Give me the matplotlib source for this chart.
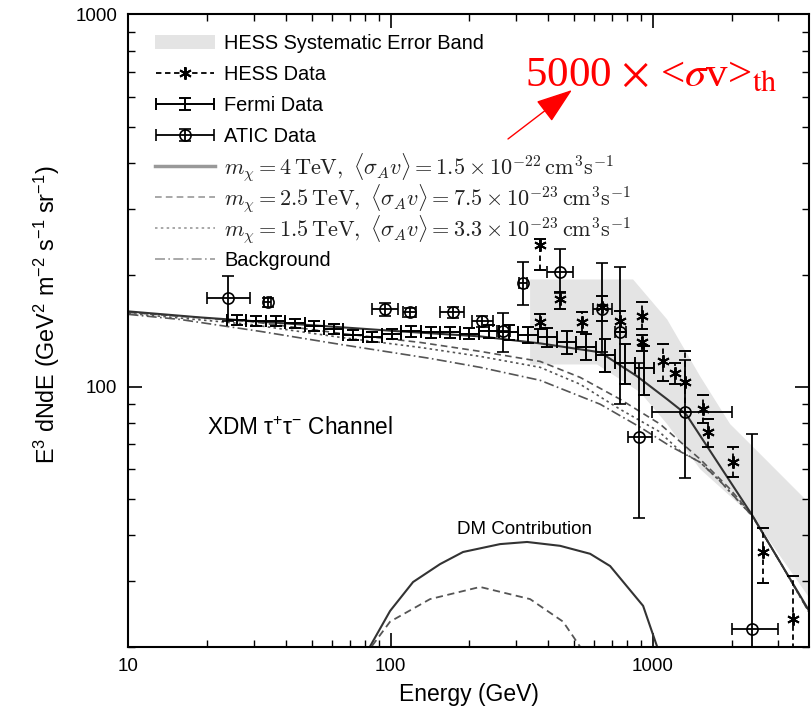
import matplotlib
matplotlib.use('Agg')
import matplotlib.pyplot as plt
from matplotlib.patches import Patch
from matplotlib.lines import Line2D
from matplotlib.container import ErrorbarContainer
from matplotlib.legend_handler import HandlerErrorbar
from matplotlib.ticker import FuncFormatter, NullFormatter

plt.rcParams['font.family'] = ['Liberation Sans', 'DejaVu Sans']
plt.rcParams['mathtext.fontset'] = 'custom'
plt.rcParams['mathtext.rm'] = 'Liberation Sans'
plt.rcParams['mathtext.it'] = 'Liberation Sans:italic'
plt.rcParams['mathtext.bf'] = 'Liberation Sans:bold'

# ---- model curves (E in GeV, E^3 dN/dE) ----
e_m4 = [10, 18.75, 45.1, 108.7, 219.6, 372.1, 630.5, 872.7, 1136, 1342, 1809, 2398, 3066, 3957]
f_m4 = [159.4, 153.6, 147.1, 140.9, 136.6, 130.8, 123.8, 106.7, 92.6, 84.4, 61.2, 45.2, 33.8, 25.0]

e_m25 = [10, 29.1, 64.2, 129.6, 219.6, 372.1, 528.9, 751.6, 1068, 1518, 1976, 2398, 3066, 3957]
f_m25 = [158.4, 149.8, 139.2, 131.6, 124.5, 117.0, 106.0, 92.6, 79.4, 63.9, 53.1, 45.2, 33.8, 24.8]

e_m15 = [10, 29.1, 64.2, 129.6, 219.6, 372.1, 528.9, 751.6, 1054, 1274, 1518, 1809, 2398, 3066, 3957]
f_m15 = [157.5, 147.1, 135.8, 127.6, 120.7, 112.8, 101.6, 87.0, 76.0, 67.2, 62.7, 55.8, 45.0, 33.8, 24.8]

e_bg = [10, 15.7, 31.8, 64.2, 141.5, 219.6, 372.1, 630.5, 896, 1166, 1518, 1809, 2398, 3066, 3957]
f_bg = [156.5, 151.7, 140.9, 130.0, 119.2, 112.8, 104.1, 89.8, 77.9, 69.3, 62.7, 55.8, 45.0, 33.8, 24.8]

# DM contributions alone
e_dm4 = [79.9, 99.6, 121.9, 154.5, 189.1, 261.8, 331.9, 443.6, 577.5, 688.4, 919.8, 1068]
f_dm4 = [19.0, 25.0, 29.9, 33.4, 36.0, 37.8, 38.3, 37.4, 35.6, 33.0, 25.8, 19.0]
e_dm25 = [79.9, 99.6, 141.5, 219.6, 340.8, 455.3, 542.9]
f_dm25 = [19.0, 23.4, 26.9, 29.0, 26.9, 23.4, 19.5]

# HESS systematic band (outline)
band_e = [340.8, 842.5, 1136, 1518, 1976, 2572, 3992, 3992, 2398, 1518, 1136, 896, 614, 340.8]
band_f = [194.2, 194.2, 151.7, 106.7, 79.4, 66.0, 48.4, 26.9, 45.0, 60.1, 79.4, 96.7, 114.8, 114.8]

# ---- Fermi data ----
fermi_lo = [23.8, 28.2, 33.4, 39.6, 47.0, 55.7, 66.1, 78.3, 92.9, 110, 131, 155, 184, 218, 259, 307, 364, 431, 512, 607, 719, 853]
fermi_hi = [28.2, 33.4, 39.6, 47.0, 55.7, 66.1, 78.3, 92.9, 110, 131, 155, 184, 218, 259, 307, 364, 431, 512, 607, 719, 853, 1013]
fermi_e = [25.9, 30.7, 36.4, 43.1, 51.2, 60.7, 71.9, 85.3, 101, 120, 142.5, 169, 200, 238, 282, 334, 396, 470, 557, 661, 783, 930]
fermi_f = [151, 150, 150, 148, 146, 143, 138, 136, 139, 141, 140, 140, 139, 141, 140, 138, 136, 132, 128, 122, 116, 112]
fermi_err = [4.5, 4.5, 4.5, 4.4, 4.4, 4.3, 4.1, 4.1, 4.2, 4.9, 4.9, 4.9, 4.9, 5.6, 6.3, 6.9, 8.2, 9.2, 10.2, 12.2, 14, 17]

# ---- HESS data ----
hess_e = [372, 372, 444, 538, 642, 752, 912, 912, 1097, 1219, 1330, 1560, 1620, 2029, 2642, 3438]
hess_f = [241, 148.9, 171.7, 148.9, 163.4, 149.8, 154.5, 131.6, 117.0, 108.7, 102.8, 87.0, 75.5, 62.7, 36.0, 23.8]
hess_lo = [206, 142.6, 161.4, 140.0, 150, 140, 142.6, 125, 103.4, 102, 85.4, 80, 69, 57.2, 29.7, 15]
hess_hi = [250, 156.5, 179.2, 158.4, 175, 160, 168.5, 138, 130.0, 116, 124.5, 95, 82, 68.8, 41.8, 31.0]

# ---- ATIC data ----
atic_e = [24.0, 34.1, 95.3, 118.7, 173, 223.5, 269, 320, 444, 640, 752, 888, 1330, 2398]
atic_f = [172.7, 168.5, 161.4, 158.4, 158.4, 150, 141, 190.6, 203, 162, 140, 73.2, 85.4, 22.4]
atic_lo = [150, 164, 155, 154, 153, 145, 124, 166, 179, 124, 90, 44.4, 56.8, 15]
atic_hi = [198, 173, 168, 163, 164, 155, 158, 217, 234, 215, 210, 116, 118, 74.5]
atic_elo = [19.9, 33, 85, 112, 155, 205, 255, 310, 396, 590, 720, 806, 996, 2011]
atic_ehi = [29.1, 35, 107, 125, 190, 245, 285, 332, 497, 700, 790, 996, 2011, 3000]

labels = ['HESS Systematic Error Band', 'HESS Data', 'Fermi Data', 'ATIC Data',
          r'$m_\chi = 4\,\mathrm{TeV},\ \langle\sigma_A v\rangle = 1.5\times10^{-22}\,\mathrm{cm^3s^{-1}}$',
          r'$m_\chi = 2.5\,\mathrm{TeV},\ \langle\sigma_A v\rangle = 7.5\times10^{-23}\,\mathrm{cm^3s^{-1}}$',
          r'$m_\chi = 1.5\,\mathrm{TeV},\ \langle\sigma_A v\rangle = 3.3\times10^{-23}\,\mathrm{cm^3s^{-1}}$',
          'Background']

fig = plt.figure(figsize=(8.11, 7.14), dpi=100)
ax = fig.add_axes([0.1584, 0.0938, 0.8391, 0.8859])
ax.set_xscale('log')
ax.set_yscale('log')
ax.set_xlim(10, 3950)
ax.set_ylim(20, 1000)

ax.fill(band_e, band_f, color='#e4e4e4', lw=0, zorder=0)

ax.plot(e_bg, f_bg, color='#555555', lw=1.2, ls=(0, (6, 2, 1, 2)), zorder=2)
ax.plot(e_m15, f_m15, color='#555555', lw=1.2, ls=(0, (1.5, 2)), zorder=2)
ax.plot(e_m25, f_m25, color='#555555', lw=1.2, ls=(0, (4, 2.5)), zorder=2)
ax.plot(e_m4, f_m4, color='#333333', lw=1.5, ls='-', zorder=2)
ax.plot(e_dm4, f_dm4, color='#333333', lw=1.5, ls='-', zorder=2)
ax.plot(e_dm25, f_dm25, color='#555555', lw=1.3, ls=(0, (4, 2.5)), zorder=2)

fx = [[c - l for c, l in zip(fermi_e, fermi_lo)], [h - c for c, h in zip(fermi_e, fermi_hi)]]
fermi = ax.errorbar(fermi_e, fermi_f, yerr=fermi_err, xerr=fx, fmt='none', ecolor='black',
                    elinewidth=1.4, capsize=4, capthick=1.4, zorder=4)

hy = [[c - l for c, l in zip(hess_f, hess_lo)], [h - c for c, h in zip(hess_f, hess_hi)]]
hess = ax.errorbar(hess_e, hess_f, yerr=hy, ls='none', marker=(6, 2, 0), ms=9, mew=1.4,
                   color='black', elinewidth=1.3, capsize=4, capthick=1.3, zorder=4)
for c in hess[2]:
    c.set_linestyle((0, (3, 2)))

ay = [[c - l for c, l in zip(atic_f, atic_lo)], [h - c for c, h in zip(atic_f, atic_hi)]]
axe = [[c - l for c, l in zip(atic_e, atic_elo)], [h - c for c, h in zip(atic_e, atic_ehi)]]
atic = ax.errorbar(atic_e, atic_f, yerr=ay, xerr=axe, fmt='o', mfc='none', mec='black', ms=8,
                   mew=1.2, ecolor='black', elinewidth=1.3, capsize=4, capthick=1.3, zorder=4)

# axes styling
for s in ax.spines.values():
    s.set_linewidth(1.5)
ax.tick_params(which='both', direction='in', top=True, right=True)
ax.tick_params(which='major', length=10, width=1.2, labelsize=13.5, pad=8)
ax.tick_params(which='minor', length=5, width=1.0)
ax.xaxis.set_major_formatter(FuncFormatter(lambda v, p: '%d' % v))
ax.yaxis.set_major_formatter(FuncFormatter(lambda v, p: '%d' % v))
ax.xaxis.set_minor_formatter(NullFormatter())
ax.yaxis.set_minor_formatter(NullFormatter())

ax.set_xlabel('Energy (GeV)', fontsize=16.5, labelpad=6)
ax.set_ylabel(r'E$^3$ dNdE (GeV$^2$ m$^{-2}$ s$^{-1}$ sr$^{-1}$)', fontsize=16.8)
ax.yaxis.set_label_coords(-0.098, 0.525)

ax.text(0.1154, 0.335, 'XDM τ$^{+}$τ$^{-}$ Channel', transform=ax.transAxes, fontsize=16.3,
        va='baseline', ha='left')
ax.text(0.4827, 0.1787, 'DM Contribution', transform=ax.transAxes, fontsize=13.5,
        va='baseline', ha='left')

# legend (math rows get placeholders so all rows keep the same spacing)
h_band = Patch(facecolor='#e4e4e4', edgecolor='none')
h_m4 = Line2D([], [], color='#999999', lw=2.5)
h_m25 = Line2D([], [], color='#999999', lw=1.2, ls=(0, (4, 2.5)))
h_m15 = Line2D([], [], color='#999999', lw=1.2, ls=(0, (1.5, 2)))
h_bg = Line2D([], [], color='#999999', lw=1.2, ls=(0, (6, 2, 1, 2)))
hess_leg = ax.errorbar([], [], xerr=[], yerr=[], ls='none', marker=(6, 2, 0), ms=9, mew=1.4,
                       color='black', elinewidth=1.3, capsize=4)
for c in hess_leg[2]:
    c.set_linestyle((0, (3, 2)))
leg_labels = [lab if not lab.startswith('$') else 'Xg' for lab in labels]
leg = ax.legend([h_band, hess_leg, fermi, atic, h_m4, h_m25, h_m15, h_bg], leg_labels,
                loc='upper left', bbox_to_anchor=(0.025, 0.985), frameon=False,
                prop={'family': 'Liberation Sans', 'size': 14.4},
                handlelength=3.0, labelspacing=0.6, handletextpad=0.45, borderpad=0,
                handler_map={ErrorbarContainer: HandlerErrorbar(xerr_size=1.45, yerr_size=0.3)})

fig.canvas.draw()
for t, lab in zip(leg.get_texts(), labels):
    if lab.startswith('$'):
        bb = t.get_window_extent()
        t.set_alpha(0)
        fig.text(bb.x0 / fig.bbox.width, (bb.y0 + bb.y1) / 2 / fig.bbox.height, lab,
                 fontsize=16.0, color='#222222', math_fontfamily='cm', va='center', ha='left')

# red annotation
ax.annotate('', xy=(0.6517, 0.8806), xytext=(0.5577, 0.8032), xycoords='axes fraction',
            textcoords='axes fraction',
            arrowprops=dict(arrowstyle='-|>,head_length=1.0,head_width=0.35', mutation_scale=23,
                            color='red', lw=1.0, shrinkA=0, shrinkB=0))
ax.text(0.5827, 0.8859, r'5000 $\times$ <$\sigma$v>$_{\mathrm{th}}$', transform=ax.transAxes,
        color='red', fontsize=31, family='Liberation Serif', math_fontfamily='stix',
        va='baseline', ha='left')

fig.savefig('out.png', dpi=100)
